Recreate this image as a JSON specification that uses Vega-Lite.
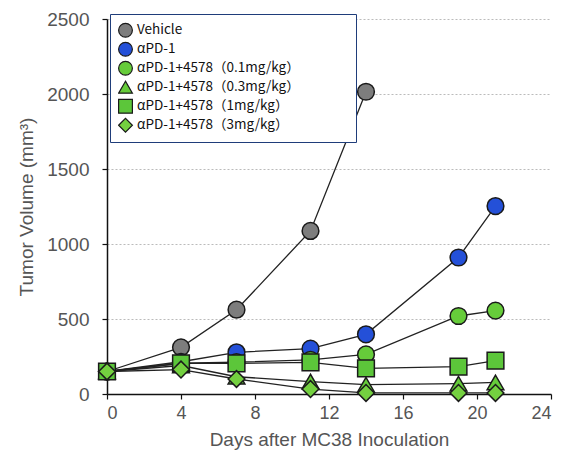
{
  "$schema": "https://vega.github.io/schema/vega-lite/v6.json",
  "width": 444,
  "height": 375,
  "autosize": "none",
  "padding": {"left": 107, "top": 19, "right": 13, "bottom": 58},
  "background": "white",
  "config": {
    "view": {"stroke": null},
    "font": "Liberation Sans"
  },
  "data": {
    "values": [
      {"group": "Vehicle", "day": 0, "volume": 150},
      {"group": "Vehicle", "day": 4, "volume": 311},
      {"group": "Vehicle", "day": 7, "volume": 562},
      {"group": "Vehicle", "day": 11, "volume": 1087},
      {"group": "Vehicle", "day": 14, "volume": 2015},
      {"group": "αPD-1", "day": 0, "volume": 150},
      {"group": "αPD-1", "day": 4, "volume": 215},
      {"group": "αPD-1", "day": 7, "volume": 278},
      {"group": "αPD-1", "day": 11, "volume": 302},
      {"group": "αPD-1", "day": 14, "volume": 398},
      {"group": "αPD-1", "day": 19, "volume": 910},
      {"group": "αPD-1", "day": 21, "volume": 1253},
      {"group": "αPD-1+4578（0.1mg/kg）", "day": 0, "volume": 150},
      {"group": "αPD-1+4578（0.1mg/kg）", "day": 4, "volume": 205},
      {"group": "αPD-1+4578（0.1mg/kg）", "day": 7, "volume": 212},
      {"group": "αPD-1+4578（0.1mg/kg）", "day": 11, "volume": 228},
      {"group": "αPD-1+4578（0.1mg/kg）", "day": 14, "volume": 264},
      {"group": "αPD-1+4578（0.1mg/kg）", "day": 19, "volume": 520},
      {"group": "αPD-1+4578（0.1mg/kg）", "day": 21, "volume": 556},
      {"group": "αPD-1+4578（0.3mg/kg）", "day": 0, "volume": 150},
      {"group": "αPD-1+4578（0.3mg/kg）", "day": 4, "volume": 190},
      {"group": "αPD-1+4578（0.3mg/kg）", "day": 7, "volume": 115},
      {"group": "αPD-1+4578（0.3mg/kg）", "day": 11, "volume": 83},
      {"group": "αPD-1+4578（0.3mg/kg）", "day": 14, "volume": 62},
      {"group": "αPD-1+4578（0.3mg/kg）", "day": 19, "volume": 69},
      {"group": "αPD-1+4578（0.3mg/kg）", "day": 21, "volume": 77},
      {"group": "αPD-1+4578（1mg/kg）", "day": 0, "volume": 150},
      {"group": "αPD-1+4578（1mg/kg）", "day": 4, "volume": 204},
      {"group": "αPD-1+4578（1mg/kg）", "day": 7, "volume": 204},
      {"group": "αPD-1+4578（1mg/kg）", "day": 11, "volume": 211},
      {"group": "αPD-1+4578（1mg/kg）", "day": 14, "volume": 171},
      {"group": "αPD-1+4578（1mg/kg）", "day": 19, "volume": 182},
      {"group": "αPD-1+4578（1mg/kg）", "day": 21, "volume": 222},
      {"group": "αPD-1+4578（3mg/kg）", "day": 0, "volume": 150},
      {"group": "αPD-1+4578（3mg/kg）", "day": 4, "volume": 163},
      {"group": "αPD-1+4578（3mg/kg）", "day": 7, "volume": 100},
      {"group": "αPD-1+4578（3mg/kg）", "day": 11, "volume": 33},
      {"group": "αPD-1+4578（3mg/kg）", "day": 14, "volume": 7},
      {"group": "αPD-1+4578（3mg/kg）", "day": 19, "volume": 7},
      {"group": "αPD-1+4578（3mg/kg）", "day": 21, "volume": 7}
    ]
  },
  "encoding": {
    "x": {
      "field": "day", "type": "quantitative",
      "scale": {"domain": [0, 24], "nice": false},
      "axis": {
        "values": [0, 4, 8, 12, 16, 20, 24],
        "format": "d",
        "title": "Days after MC38 Inoculation",
        "titleFont": "Liberation Sans", "titleFontSize": 19, "titleFontWeight": "normal", "titleColor": "#555",
        "titlePadding": 8,
        "labelFont": "Liberation Sans", "labelFontSize": 18, "labelColor": "#555", "labelPadding": 5,
        "domainColor": "#111", "domainWidth": 1.5, "tickColor": "#111", "tickSize": 5, "tickWidth": 1.2,
        "grid": false
      }
    },
    "y": {
      "field": "volume", "type": "quantitative",
      "scale": {"domain": [0, 2500], "nice": false},
      "axis": {
        "values": [0, 500, 1000, 1500, 2000, 2500],
        "format": "d",
        "title": "Tumor Volume (mm³)",
        "titleFont": "Liberation Sans", "titleFontSize": 19, "titleFontWeight": "normal", "titleColor": "#555",
        "titlePadding": 10,
        "labelFont": "Liberation Sans", "labelFontSize": 19, "labelColor": "#555", "labelPadding": 13,
        "domainColor": "#111", "domainWidth": 1.5, "tickColor": "#111", "tickSize": 5, "tickWidth": 1.2,
        "grid": true, "gridColor": "#bbb", "gridDash": [2, 2], "gridWidth": 1
      }
    }
  },
  "layer": [
    {
      "mark": {"type": "line", "color": "#222", "strokeWidth": 1.3},
      "encoding": {"detail": {"field": "group"}}
    },
    {
      "mark": {"type": "point", "filled": true, "strokeWidth": 1.5, "size": 280, "opacity": 1},
      "encoding": {
        "shape": {
          "field": "group", "type": "nominal",
          "scale": {
            "domain": ["Vehicle", "αPD-1", "αPD-1+4578（0.1mg/kg）", "αPD-1+4578（0.3mg/kg）", "αPD-1+4578（1mg/kg）", "αPD-1+4578（3mg/kg）"],
            "range": ["circle", "circle", "circle", "triangle-up", "square", "diamond"]
          },
          "legend": {
            "title": ".",
            "titleOrient": "right",
            "titleFont": "Liberation Sans", "titleFontSize": 4, "titleColor": "rgba(255,255,255,0)",
            "titlePadding": 46,
            "orient": "none", "legendX": 3, "legendY": -5,
            "fillColor": "white", "strokeColor": "#1f3d7a",
            "padding": 8,
            "labelFont": "Noto Sans CJK JP", "labelFontSize": 13.5, "labelColor": "#111",
            "labelLimit": 400,
            "symbolSize": 190, "symbolStrokeWidth": 1.2,
            "symbolOpacity": 1,
            "rowPadding": 2,
            "clipHeight": 16.5,
            "encode": {
              "labels": {"update": {"fontWeight": [{"test": "datum.value === 'Vehicle'", "value": "bold"}, {"value": "normal"}]}},
              "legend": {"update": {"strokeWidth": {"value": 2}}}
            }
          }
        },
        "fill": {
          "field": "group", "type": "nominal",
          "scale": {
            "domain": ["Vehicle", "αPD-1", "αPD-1+4578（0.1mg/kg）", "αPD-1+4578（0.3mg/kg）", "αPD-1+4578（1mg/kg）", "αPD-1+4578（3mg/kg）"],
            "range": ["#7d7d7d", "#2450d8", "#66cc3a", "#66cc3a", "#5cc63a", "#74d040"]
          },
          "legend": {
            "title": ".",
            "titleOrient": "right",
            "titleFont": "Liberation Sans", "titleFontSize": 4, "titleColor": "rgba(255,255,255,0)",
            "titlePadding": 46,
            "orient": "none", "legendX": 3, "legendY": -5,
            "fillColor": "white", "strokeColor": "#1f3d7a",
            "padding": 8,
            "labelFont": "Noto Sans CJK JP", "labelFontSize": 13.5, "labelColor": "#111",
            "labelLimit": 400,
            "symbolSize": 190, "symbolStrokeWidth": 1.2,
            "symbolOpacity": 1,
            "rowPadding": 2,
            "clipHeight": 16.5
          }
        },
        "stroke": {
          "field": "group", "type": "nominal",
          "scale": {
            "domain": ["Vehicle", "αPD-1", "αPD-1+4578（0.1mg/kg）", "αPD-1+4578（0.3mg/kg）", "αPD-1+4578（1mg/kg）", "αPD-1+4578（3mg/kg）"],
            "range": ["#1a1a1a", "#1a1a1a", "#1a1a1a", "#1a1a1a", "#1a1a1a", "#1a1a1a"]
          },
          "legend": {
            "title": ".",
            "titleOrient": "right",
            "titleFont": "Liberation Sans", "titleFontSize": 4, "titleColor": "rgba(255,255,255,0)",
            "titlePadding": 46,
            "orient": "none", "legendX": 3, "legendY": -5,
            "fillColor": "white", "strokeColor": "#1f3d7a",
            "padding": 8,
            "labelFont": "Noto Sans CJK JP", "labelFontSize": 13.5, "labelColor": "#111",
            "labelLimit": 400,
            "symbolSize": 190, "symbolStrokeWidth": 1.2,
            "symbolOpacity": 1,
            "rowPadding": 2,
            "clipHeight": 16.5
          }
        }
      }
    }
  ]
}
